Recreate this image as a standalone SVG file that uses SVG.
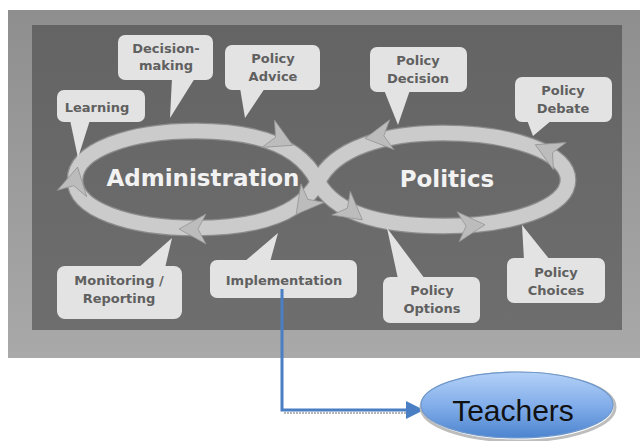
<svg xmlns="http://www.w3.org/2000/svg" width="640" height="441" viewBox="0 0 640 441">
<defs>
<linearGradient id="frameG" x1="0" y1="0" x2="0" y2="1">
<stop offset="0" stop-color="#8e8e8e"/><stop offset="1" stop-color="#a9a9a9"/>
</linearGradient>
<linearGradient id="panelG" x1="0" y1="0" x2="0" y2="1">
<stop offset="0" stop-color="#646464"/><stop offset="1" stop-color="#6e6e6e"/>
</linearGradient>
<linearGradient id="blueG" x1="0" y1="0" x2="0" y2="1">
<stop offset="0" stop-color="#b3d1f7"/><stop offset="0.5" stop-color="#83aeea"/><stop offset="1" stop-color="#4c84cf"/>
</linearGradient>
<path id="ah" d="M3,0 L-24,-15 L-16,0 L-24,15 Z"/>
<marker id="blueArrow" markerWidth="6" markerHeight="6" refX="4" refY="3" orient="auto" markerUnits="strokeWidth">
<path d="M0,0 L6,3 L0,6 Z" fill="#4a7fc4"/>
</marker>
<style>
.callout{fill:#e3e3e3;}
.ctext{font-family:"DejaVu Sans",Verdana,sans-serif;font-weight:bold;font-size:13px;fill:#606060;text-anchor:middle;}
.big{font-family:"DejaVu Sans",Verdana,sans-serif;font-weight:bold;font-size:23px;fill:#f2f2f2;text-anchor:middle;}
.band{fill:none;stroke-linecap:butt;stroke-linejoin:round;}
.head{fill:#bcbcbc;stroke:#969696;stroke-width:0.8;}
</style>
</defs>

<g id="background">
<rect x="8" y="10" width="632" height="348" fill="url(#frameG)"/>
<rect x="32" y="25" width="590" height="305" fill="url(#panelG)"/>
</g>

<g id="cycle">
<path class="band" stroke="#8c8c8c" stroke-width="17" d="M318,182 C300,215 255,228 196,228 C130,228 75,210 75,180 C75,150 130,131 196,131 C260,131 302,148 318,182 C336,215 385,226 443,226 C510,226 568,208 568,180 C568,152 510,133 443,133 C385,133 334,148 318,182"/>
<path class="band" stroke="#cbcbcb" stroke-width="14.5" d="M318,182 C300,215 255,228 196,228 C130,228 75,210 75,180 C75,150 130,131 196,131 C260,131 302,148 318,182 C336,215 385,226 443,226 C510,226 568,208 568,180 C568,152 510,133 443,133 C385,133 334,148 318,182"/>
<use href="#ah" class="head" transform="translate(290,144) rotate(25)"/>
<use href="#ah" class="head" transform="translate(298,212) rotate(128)"/>
<use href="#ah" class="head" transform="translate(182,229) rotate(180)"/>
<use href="#ah" class="head" transform="translate(77,170) rotate(-78)"/>
<use href="#ah" class="head" transform="translate(360,218) rotate(38)"/>
<use href="#ah" class="head" transform="translate(482,225) rotate(-4)"/>
<use href="#ah" class="head" transform="translate(538,146) rotate(205)"/>
<use href="#ah" class="head" transform="translate(368,138) rotate(172)"/>
<text class="big" x="203" y="186">Administration</text>
<text class="big" x="447" y="187">Politics</text>
</g>

<g id="learning">
<rect class="callout" x="57" y="90" width="88" height="32" rx="7"/>
<polygon class="callout" points="70,120 90,120 78,158"/>
<text class="ctext" x="97" y="112">Learning</text>
</g>
<g id="decision-making">
<rect class="callout" x="118" y="35" width="95" height="45" rx="7"/>
<polygon class="callout" points="172,78 195,78 170,118"/>
<text class="ctext" x="166" y="53">Decision-</text>
<text class="ctext" x="166" y="70">making</text>
</g>
<g id="policy-advice">
<rect class="callout" x="225" y="45" width="95" height="45" rx="7"/>
<polygon class="callout" points="240,88 265,88 245,118"/>
<text class="ctext" x="273" y="63">Policy</text>
<text class="ctext" x="273" y="81">Advice</text>
</g>
<g id="policy-decision">
<rect class="callout" x="370" y="47" width="97" height="45" rx="7"/>
<polygon class="callout" points="384,90 410,90 398,125"/>
<text class="ctext" x="418" y="65">Policy</text>
<text class="ctext" x="418" y="83">Decision</text>
</g>
<g id="policy-debate">
<rect class="callout" x="515" y="77" width="97" height="45" rx="7"/>
<polygon class="callout" points="527,120 552,120 533,136"/>
<text class="ctext" x="563" y="95">Policy</text>
<text class="ctext" x="563" y="113">Debate</text>
</g>
<g id="monitoring-reporting">
<rect class="callout" x="57" y="266" width="125" height="53" rx="8"/>
<polygon class="callout" points="138,268 165,268 172,238"/>
<text class="ctext" x="119" y="285">Monitoring /</text>
<text class="ctext" x="119" y="303">Reporting</text>
</g>
<g id="implementation">
<rect class="callout" x="210" y="260" width="147" height="38" rx="7"/>
<polygon class="callout" points="244,262 270,262 278,233"/>
<text class="ctext" x="284" y="285">Implementation</text>
</g>
<g id="policy-options">
<rect class="callout" x="383" y="277" width="97" height="46" rx="7"/>
<polygon class="callout" points="398,279 425,279 387,228"/>
<text class="ctext" x="432" y="295">Policy</text>
<text class="ctext" x="432" y="313">Options</text>
</g>
<g id="policy-choices">
<rect class="callout" x="507" y="258" width="98" height="45" rx="7"/>
<polygon class="callout" points="524,260 550,260 522,225"/>
<text class="ctext" x="556" y="277">Policy</text>
<text class="ctext" x="556" y="295">Choices</text>
</g>

<g id="connectors">
<path d="M284,413 L414,413" stroke="#b5b5b5" stroke-width="2" stroke-dasharray="2,1" fill="none"/>
<path d="M282,289 L282,410 L418,410" stroke="#4a7fc4" stroke-width="3" fill="none" marker-end="url(#blueArrow)"/>
</g>

<g id="teachers">
<ellipse cx="518" cy="407" rx="97" ry="34" fill="none" stroke="#bdbdbd" stroke-width="3"/>
<ellipse cx="517" cy="405" rx="96" ry="33" fill="url(#blueG)" stroke="#6e98cc" stroke-width="1.2"/>
<text x="513" y="421" font-family="'Liberation Sans',Arial,sans-serif" font-size="30" fill="#111" text-anchor="middle">Teachers</text>
</g>
</svg>
